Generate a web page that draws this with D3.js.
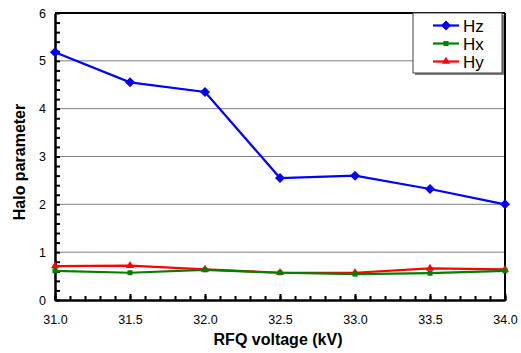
<!DOCTYPE html>
<html>
<head>
<meta charset="utf-8">
<script src="https://cdn.jsdelivr.net/npm/d3@7"></script>
<style>
  body { margin: 0; background: #fff; }
  text { font-family: Arial, "Liberation Sans", sans-serif; }
</style>
</head>
<body>
<script>
const voltages = [31.0, 31.5, 32.0, 32.5, 33.0, 33.5, 34.0];
const hz = [5.18, 4.55, 4.35, 2.55, 2.60, 2.32, 2.00];
const hx = [0.61, 0.57, 0.63, 0.57, 0.54, 0.56, 0.61];
const hy = [0.71, 0.72, 0.64, 0.57, 0.57, 0.66, 0.64];
const yTicks = [0, 1, 2, 3, 4, 5, 6];
const xTicks = [31.0, 31.5, 32.0, 32.5, 33.0, 33.5, 34.0];

const series = [
  { name: 'Hz', values: hz, color: '#0000ff', symbol: d3.symbolSquare, size: 50, rot: 45 },
  { name: 'Hx', values: hx, color: '#008000', symbol: d3.symbolSquare, size: 25, rot: 0 },
  { name: 'Hy', values: hy, color: '#ff0000', symbol: d3.symbolTriangle, size: 28, rot: 0 }
];

const svgDims = { width: 521, height: 353 };
const margin = { top: 13, right: 16, bottom: 53, left: 55 };
const w = svgDims.width - margin.left - margin.right;
const h = svgDims.height - margin.top - margin.bottom;

const svg = d3.select('body').append('svg')
  .attr('width', svgDims.width)
  .attr('height', svgDims.height);

const graph = svg.append('g')
  .attr('transform', `translate(${margin.left},${margin.top})`);

const x = d3.scaleLinear().domain([31, 34]).range([0, w]);
const y = d3.scaleLinear().domain([0, 6]).range([h, 0]);

// gridlines
graph.append('g')
  .selectAll('line')
  .data(yTicks.filter(d => d > 0 && d < 6))
  .join('line')
  .attr('x1', 0).attr('x2', w)
  .attr('y1', d => y(d)).attr('y2', d => y(d))
  .attr('stroke', '#808080').attr('stroke-width', 1);

// frame top and right
graph.append('line').attr('x1', 0).attr('x2', w).attr('y1', 0).attr('y2', 0)
  .attr('stroke', '#000').attr('stroke-width', 2);
graph.append('line').attr('x1', w).attr('x2', w).attr('y1', 0).attr('y2', h)
  .attr('stroke', '#000').attr('stroke-width', 2);

// y axis with minor ticks
const yMinor = d3.range(0, 6.001, 0.2);
const yMinorAxis = d3.axisRight(y).tickValues(yMinor).tickSize(5).tickFormat('');
const yMinorG = graph.append('g').call(yMinorAxis);
yMinorG.select('.domain').remove();
yMinorG.selectAll('line').attr('stroke-width', 2);

const yAxis = d3.axisLeft(y).tickValues(yTicks).tickSize(0).tickPadding(9).tickFormat(d3.format('d'));
const yAxisG = graph.append('g').call(yAxis);
yAxisG.select('.domain').attr('stroke-width', 2.5);
yAxisG.selectAll('text').attr('font-size', 12.5).attr('fill', '#000');

// x axis with minor ticks
const xMinor = d3.range(31, 34.001, 0.1);
const xMinorAxis = d3.axisTop(x).tickValues(xMinor).tickSize(4).tickFormat('');
const xMinorG = graph.append('g').attr('transform', `translate(0,${h})`).call(xMinorAxis);
xMinorG.select('.domain').remove();
xMinorG.selectAll('line').attr('stroke-width', 2);

const xMajorAxis = d3.axisTop(x).tickValues(xTicks).tickSize(5).tickFormat('');
const xMajorG = graph.append('g').attr('transform', `translate(0,${h})`).call(xMajorAxis);
xMajorG.select('.domain').remove();
xMajorG.selectAll('line').attr('stroke-width', 2).attr('y2', -6).attr('y1', 1);

const xAxis = d3.axisBottom(x).tickValues(xTicks).tickSize(0).tickPadding(15).tickFormat(d3.format('.1f'));
const xAxisG = graph.append('g').attr('transform', `translate(0,${h})`).call(xAxis);
xAxisG.select('.domain').attr('stroke-width', 2.5);
xAxisG.selectAll('text').attr('font-size', 12.5).attr('fill', '#000');

// series
const line = d3.line().x((d, i) => x(voltages[i])).y(d => y(d));
series.slice().reverse().forEach(s => {
  graph.append('path')
    .datum(s.values)
    .attr('d', line)
    .attr('fill', 'none')
    .attr('stroke', s.color)
    .attr('stroke-width', 2.2);
  graph.append('g')
    .selectAll('path')
    .data(s.values)
    .join('path')
    .attr('transform', (d, i) => `translate(${x(voltages[i])},${y(d)}) rotate(${s.rot})`)
    .attr('d', d3.symbol().type(s.symbol).size(s.size))
    .attr('fill', s.color);
});

// axis titles
svg.append('text')
  .attr('transform', `translate(25,162) rotate(-90)`)
  .attr('text-anchor', 'middle')
  .attr('font-size', 16).attr('font-weight', 'bold')
  .text('Halo parameter');

svg.append('text')
  .attr('x', 278)
  .attr('y', 345)
  .attr('text-anchor', 'middle')
  .attr('font-size', 16).attr('font-weight', 'bold')
  .text('RFQ voltage (kV)');

// legend
const lg = svg.append('g').attr('transform', 'translate(413,13)');
lg.append('rect').attr('x', 2).attr('y', 2).attr('width', 89).attr('height', 60).attr('fill', '#808080');
lg.append('rect').attr('width', 89).attr('height', 60).attr('fill', '#fff')
  .attr('stroke', '#404040').attr('stroke-width', 1);
series.forEach((s, i) => {
  const cy = 12.5 + i * 18;
  lg.append('line').attr('x1', 20).attr('x2', 46).attr('y1', cy).attr('y2', cy)
    .attr('stroke', s.color).attr('stroke-width', 2.2);
  lg.append('path').attr('transform', `translate(33,${cy}) rotate(${s.rot})`)
    .attr('d', d3.symbol().type(s.symbol).size(s.size)).attr('fill', s.color);
  lg.append('text').attr('x', 50).attr('y', cy + 6).attr('font-size', 17).text(s.name);
});
</script>
</body>
</html>
